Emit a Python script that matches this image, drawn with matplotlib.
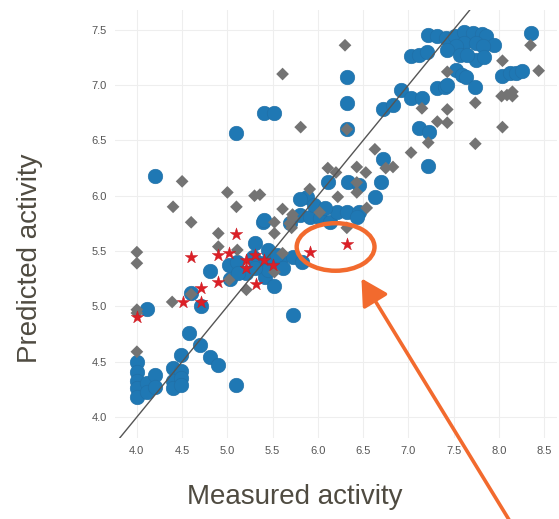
import matplotlib
matplotlib.use("Agg")
import matplotlib.pyplot as plt
from matplotlib.patches import Ellipse, FancyArrowPatch

plt.rcParams['font.family'] = ['Liberation Sans', 'DejaVu Sans']

# Training-set compounds (measured, predicted)
train_x = [4.0, 4.0, 4.0, 4.0, 4.0, 4.11, 4.11, 4.20, 4.20, 4.40, 4.40, 4.40,
           4.49, 4.49, 4.49, 4.49, 4.58, 4.70, 4.81, 4.90, 5.10,
           4.11, 4.60, 4.71, 4.20, 5.10, 5.40, 5.51, 5.72,
           4.81, 5.02, 5.03, 5.11, 5.21, 5.31, 5.36, 5.42, 5.47, 5.52, 5.58, 5.72,
           5.82, 5.39, 5.45, 5.55, 5.12, 5.28, 5.45, 5.62, 5.30,
           5.41, 5.69, 5.80, 5.91, 6.02, 6.13, 6.21, 6.32, 6.46, 6.43, 5.88, 5.96,
           6.08, 6.33, 6.46, 6.63, 6.11, 5.80, 6.70, 6.72, 6.32, 6.32, 6.32,
           6.72, 6.83, 6.92, 7.03, 7.15, 7.12, 7.23, 7.22, 7.32, 7.40, 7.43,
           7.53, 7.59, 7.64, 7.74, 8.03, 8.12, 8.19, 8.26, 8.35,
           7.22, 7.32, 7.42, 7.51, 7.62, 7.71, 7.81, 7.86, 7.95, 7.62, 7.75,
           7.82, 7.53, 7.43, 7.03, 7.12, 7.21, 7.75, 7.84, 7.57, 7.65]
train_y = [4.50, 4.41, 4.33, 4.26, 4.18, 4.31, 4.23, 4.38, 4.27, 4.44, 4.33, 4.26,
           4.56, 4.42, 4.35, 4.29, 4.76, 4.65, 4.54, 4.47, 4.29,
           4.98, 5.12, 5.00, 6.18, 6.57, 6.75, 6.75, 4.92,
           5.32, 5.37, 5.25, 5.40, 5.30, 5.57, 5.39, 5.27, 5.44, 5.18, 5.42, 5.45,
           5.40, 5.76, 5.51, 5.46, 5.30, 5.45, 5.33, 5.35, 5.35,
           5.78, 5.75, 5.83, 5.81, 5.80, 5.76, 5.85, 5.85, 5.85, 5.81, 5.99, 5.92,
           5.89, 6.12, 6.10, 5.99, 6.12, 5.97, 6.12, 6.33, 7.07, 6.84, 6.60,
           6.78, 6.82, 6.96, 6.88, 6.88, 6.61, 6.58, 6.27, 6.97, 6.98, 7.00,
           7.14, 7.09, 7.07, 6.98, 7.08, 7.11, 7.11, 7.13, 7.47,
           7.45, 7.44, 7.43, 7.44, 7.48, 7.47, 7.46, 7.44, 7.36, 7.38, 7.38,
           7.35, 7.35, 7.32, 7.26, 7.27, 7.30, 7.23, 7.25, 7.27, 7.27]

# Test-set compounds
test_x = [4.0, 4.0, 4.0, 4.0, 4.0, 4.39, 4.60, 4.40, 4.50, 4.60, 4.90, 4.90,
          5.00, 5.10, 5.11, 5.02, 5.21, 5.30, 5.61, 5.52, 5.69, 5.52, 5.61,
          5.52, 5.61, 5.81, 5.91, 6.11, 6.20, 6.30, 6.32, 6.43, 6.53, 6.43,
          6.22, 6.43, 6.54, 6.02, 5.72, 5.71, 6.32, 5.36, 6.63, 6.75, 6.83,
          7.03, 7.15, 7.22, 7.32, 7.43, 7.43, 7.43, 7.74, 7.74, 8.04, 8.03,
          8.09, 8.15, 8.15, 8.04, 8.35, 8.44, 5.72]
test_y = [5.49, 5.39, 4.97, 4.94, 4.59, 5.04, 5.11, 5.90, 6.13, 5.76, 5.66, 5.54,
          6.03, 5.90, 5.51, 5.24, 5.15, 6.00, 5.88, 5.76, 5.75, 5.66, 5.48,
          5.31, 7.10, 6.62, 6.06, 6.25, 6.21, 7.36, 6.60, 6.26, 6.21, 6.12,
          5.99, 6.03, 5.89, 5.85, 5.80, 5.71, 5.71, 6.01, 6.42, 6.25, 6.26,
          6.39, 6.79, 6.48, 6.67, 6.66, 6.78, 7.12, 6.84, 6.47, 7.22, 6.90,
          6.91, 6.94, 6.90, 6.62, 7.36, 7.13, 5.83]

# Newly designed compounds
new_x = [4.0, 4.51, 4.60, 4.71, 4.71, 4.90, 4.90, 5.02, 5.10, 5.21, 5.21,
         5.31, 5.32, 5.41, 5.50, 5.91, 6.32]
new_y = [4.90, 5.04, 5.45, 5.17, 5.04, 5.46, 5.22, 5.48, 5.65, 5.42, 5.35,
         5.46, 5.20, 5.42, 5.37, 5.49, 5.56]

x_ticks = [4.0, 4.5, 5.0, 5.5, 6.0, 6.5, 7.0, 7.5, 8.0, 8.5]
y_ticks = [4.0, 4.5, 5.0, 5.5, 6.0, 6.5, 7.0, 7.5]

fig = plt.figure(figsize=(5.59, 5.19), dpi=100)
ax = fig.add_axes([0.206, 0.156, 0.790, 0.825])

ax.set_xlim(3.76, 8.64)
ax.set_ylim(3.81, 7.68)

# Identity line
ax.plot([3.5, 8.0], [3.5, 8.0], color='#555555', lw=1.0, zorder=4)

ax.scatter(train_x, train_y, s=110, marker='o', color='#1f78b4',
           edgecolors='#1f6fa6', linewidths=0.4, zorder=2)
ax.scatter(test_x, test_y, s=42, marker='D', color='#737373',
           edgecolors='none', zorder=3)
ax.scatter(new_x, new_y, s=90, marker='*', color='#dc1f26',
           edgecolors='#c81a22', linewidths=0.3, zorder=5)

ax.set_xticks(x_ticks)
ax.set_yticks(y_ticks)
ax.set_xticklabels([f"{v:.1f}" for v in x_ticks])
ax.set_yticklabels([f"{v:.1f}" for v in y_ticks])
ax.tick_params(length=0, labelsize=8, labelcolor='#555555', pad=6)
ax.grid(True, color='#eeeeee', lw=0.8)
ax.set_axisbelow(True)
for sp in ax.spines.values():
    sp.set_visible(False)

# Highlighted region
ax.add_patch(Ellipse((6.196, 5.537), 0.86, 0.43, fill=False,
                     edgecolor='#f26a2e', lw=3.2, zorder=6, clip_on=False))

# Pointer arrow
fig.patches.append(FancyArrowPatch(
    (511, -4), (360, 243), transform=None,
    arrowstyle='-|>,head_length=10,head_width=5.5',
    color='#f26a2e', lw=2.6, mutation_scale=1.6, zorder=10))

fig.text(0.528, 0.042, 'Measured activity', ha='center', va='center',
         fontsize=20, color='#4f4b41')
fig.text(0.054, 0.503, 'Predicted activity', ha='center', va='center',
         rotation=90, fontsize=20, color='#4f4b41')

fig.savefig('out.png', dpi=100)
